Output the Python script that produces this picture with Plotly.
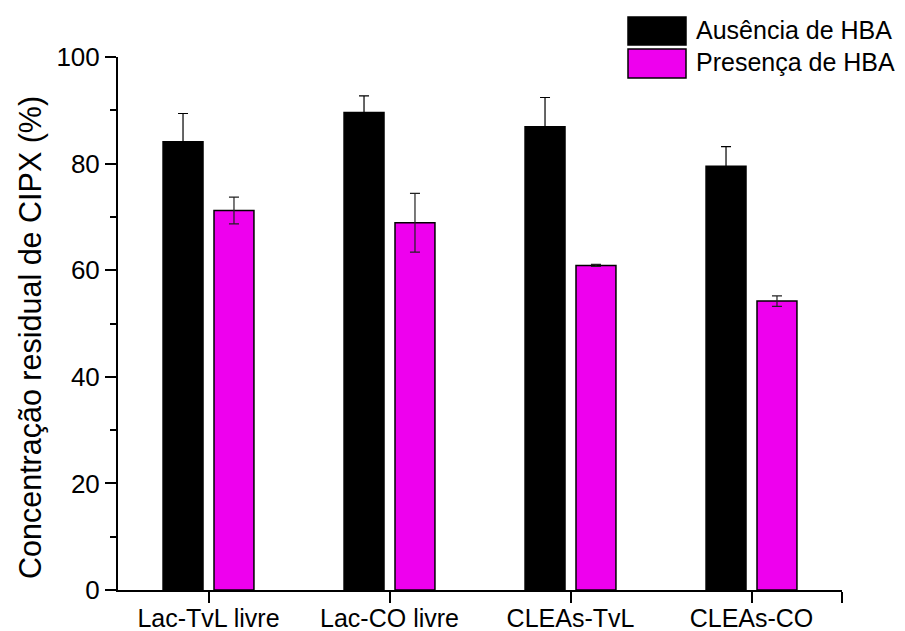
import plotly.graph_objects as go

categories = ["Lac-TvL livre", "Lac-CO livre", "CLEAs-TvL", "CLEAs-CO"]
series_names = ["Ausência de HBA", "Presença de HBA"]
ausencia = [84.1, 89.6, 86.9, 79.5]
ausencia_err = [5.3, 3.1, 5.5, 3.7]
presenca = [71.2, 68.9, 60.9, 54.2]
presenca_err = [2.5, 5.5, 0.2, 1.0]
y_ticks = [0, 20, 40, 60, 80, 100]

colors = ["#000000", "#EE00EE"]
err_colors = ["#000000", "#222222"]
FONT = "Liberation Sans, Arial, sans-serif"

xpos = list(range(len(categories)))

fig = go.Figure()
for name, vals, errs, col, ecol in [
    (series_names[0], ausencia, ausencia_err, colors[0], err_colors[0]),
    (series_names[1], presenca, presenca_err, colors[1], err_colors[1]),
]:
    fig.add_trace(go.Bar(
        x=xpos, y=vals, name=name,
        marker=dict(color=col, line=dict(color="#000000", width=1.5)),
        error_y=dict(type="data", array=errs, visible=True,
                     color=ecol, thickness=1.2, width=5),
        showlegend=False,
    ))

fig.update_layout(
    width=905, height=631,
    margin=dict(l=118, r=63, t=57, b=41, autoexpand=False),
    paper_bgcolor="white", plot_bgcolor="white",
    barmode="group", bargap=0.437, bargroupgap=0.216,
    font=dict(family=FONT, size=25, color="black"),
)

fig.update_xaxes(
    range=[-0.5, 3.5], automargin=False,
    tickvals=xpos + [3.5], ticktext=categories + [""],
    ticks="outside", ticklen=11, tickwidth=2, tickcolor="black",
    ticklabelstandoff=-6,
    showline=True, linewidth=2, linecolor="black",
    showgrid=False, zeroline=False,
    tickfont=dict(family=FONT, size=25, color="black"),
)
fig.update_yaxes(
    range=[0, 100], automargin=False,
    tickvals=y_ticks,
    ticks="outside", ticklen=11, tickwidth=2, tickcolor="black",
    minor=dict(dtick=10, ticks="outside", ticklen=6, tickwidth=2, tickcolor="black"),
    showline=True, linewidth=2, linecolor="black",
    showgrid=False, zeroline=False,
    tickfont=dict(family=FONT, size=26, color="black"),
)

# axis title
fig.add_annotation(
    text="Concentração residual de CIPX (%)",
    xref="paper", yref="paper", x=(30 - 118) / 724, y=(590 - 338) / 533,
    textangle=-90, showarrow=False, xanchor="center", yanchor="middle",
    font=dict(family=FONT, size=30.5, color="black"),
)

# legend (swatches + labels)
def px_x(p):
    return (p - 118) / 724

def px_y(p):
    return (590 - p) / 533

legend_rows = [(17, 45), (49, 78)]
for (y0, y1), name, col in zip(legend_rows, series_names, colors):
    fig.add_shape(type="rect", xref="paper", yref="paper",
                  x0=px_x(628), x1=px_x(686), y0=px_y(y1), y1=px_y(y0),
                  fillcolor=col, line=dict(color="black", width=1.5))
    fig.add_annotation(text=name, xref="paper", yref="paper",
                       x=px_x(694), y=px_y((y0 + y1) / 2 - 1),
                       xanchor="left", yanchor="middle", showarrow=False,
                       font=dict(family=FONT, size=25, color="black"))

fig.write_html("out.html")
